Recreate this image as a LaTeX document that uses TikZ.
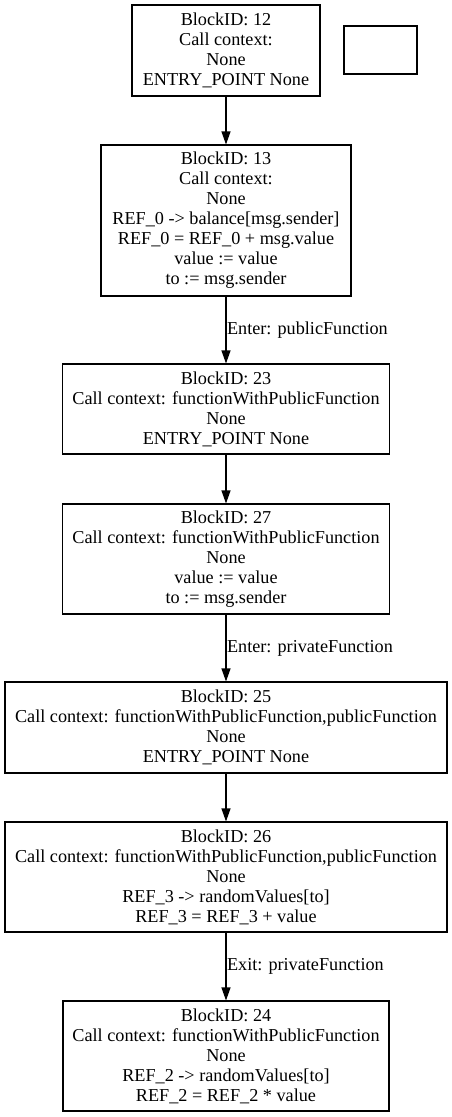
\documentclass[tikz,border=0pt]{standalone}
\usepackage{fontspec}
\setmainfont{Liberation Serif}
\usetikzlibrary{arrows.meta}
\newcommand{\blkfont}{\fontsize{18.2bp}{20bp}\selectfont}

\begin{document}
\begin{tikzpicture}[x=1bp, y=-1bp,
  block/.style={draw, line width=1.1bp, align=center, inner sep=0pt, font=\blkfont},
  flow/.style={line width=1.1bp, -{Triangle[length=13bp,width=9bp]}},
  lbl/.style={font=\blkfont, inner sep=0.5bp}]
  \useasboundingbox (0,0) rectangle (452,1117);

  % Blocks
  \node[block, minimum width=188bp, minimum height=91bp] (b12) at (226,50.5)
    {BlockID: 12\\Call context:\\None\\ENTRY\_POINT None};
  \node[block, minimum width=73bp, minimum height=48bp] (blank) at (380.5,50) {};
  \node[block, minimum width=250bp, minimum height=151bp] (b13) at (226,220.5)
    {BlockID: 13\\Call context:\\None\\REF\_0 -> balance[msg.sender]\\
     REF\_0 = REF\_0 + msg.value\\value := value\\to := msg.sender};
  \node[block, minimum width=327bp, minimum height=90bp] (b23) at (226,409)
    {BlockID: 23\\Call context: functionWithPublicFunction\\None\\ENTRY\_POINT None};
  \node[block, minimum width=327bp, minimum height=110bp] (b27) at (226,559)
    {BlockID: 27\\Call context: functionWithPublicFunction\\None\\
     value := value\\to := msg.sender};
  \node[block, minimum width=442bp, minimum height=91bp] (b25) at (226,727.5)
    {BlockID: 25\\Call context: functionWithPublicFunction,publicFunction\\
     None\\ENTRY\_POINT None};
  \node[block, minimum width=442bp, minimum height=110bp] (b26) at (226,877)
    {BlockID: 26\\Call context: functionWithPublicFunction,publicFunction\\
     None\\REF\_3 -> randomValues[to]\\REF\_3 = REF\_3 + value};
  \node[block, minimum width=326bp, minimum height=110bp] (b24) at (226,1056)
    {BlockID: 24\\Call context: functionWithPublicFunction\\None\\
     REF\_2 -> randomValues[to]\\REF\_2 = REF\_2 * value};

  % Edges
  \draw[flow] (b12) -- (b13);
  \draw[flow] (b13) -- node[lbl, right] {Enter: publicFunction} (b23);
  \draw[flow] (b23) -- (b27);
  \draw[flow] (b27) -- node[lbl, right] {Enter: privateFunction} (b25);
  \draw[flow] (b25) -- (b26);
  \draw[flow] (b26) -- node[lbl, right] {Exit: privateFunction} (b24);
\end{tikzpicture}
\end{document}
